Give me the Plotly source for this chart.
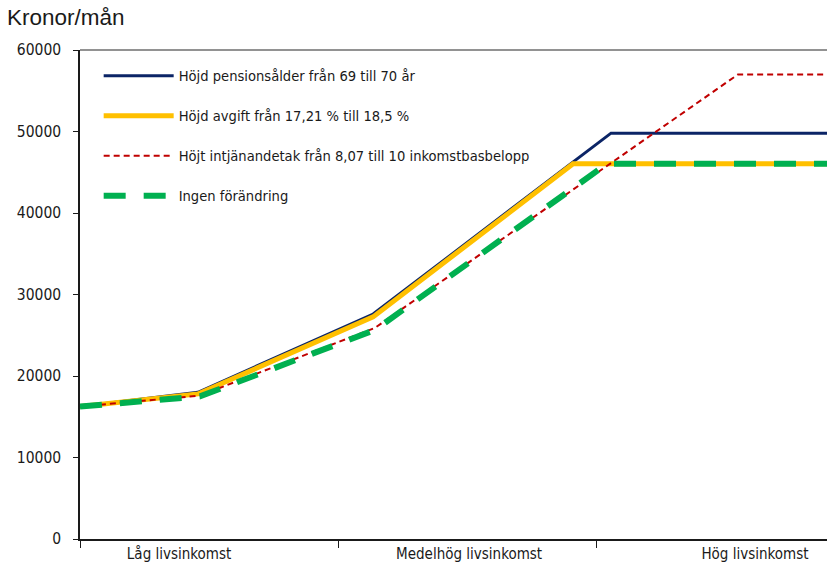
import plotly.graph_objects as go

# Position along the income axis (0-1: låg, 1-2: medelhög, 2-3: hög)
navy_x = [0, 0.457, 1.136, 2.058, 3.0]
navy_y = [16250, 18000, 27600, 49800, 49800]

yellow_x = [0, 0.457, 1.136, 1.911, 3.0]
yellow_y = [16250, 17800, 27250, 46050, 46050]

red_x = [0, 0.465, 1.143, 2.550, 3.0]
red_y = [16250, 17600, 25900, 57000, 57000]

green_x = [0, 0.465, 1.143, 2.043, 3.0]
green_y = [16250, 17500, 25650, 46050, 46050]

cat_pos = [0.384, 1.508, 2.616]
cat_labels = ["Låg livsinkomst", "Medelhög livsinkomst", "Hög livsinkomst"]
cat_bounds = [0, 1, 2]

y_ticks = [0, 10000, 20000, 30000, 40000, 50000, 60000]
y_labels = ["0", "10000", "20000", "30000", "40000", "50000", "60000"]

names = [
    "Höjd pensionsålder från 69 till 70 år",
    "Höjd avgift från 17,21 % till 18,5 %",
    "Höjt intjänandetak från 8,07 till 10 inkomstbasbelopp",
    "Ingen förändring",
]

NARROW = "Liberation Sans Narrow, Arial Narrow, DejaVu Sans Condensed, sans-serif"

fig = go.Figure()
fig.add_trace(go.Scatter(x=navy_x, y=navy_y, mode="lines", name=names[0],
                         line=dict(color="#0b2466", width=3), legendgroup="a"))
fig.add_trace(go.Scatter(x=yellow_x, y=yellow_y, mode="lines", name=names[1],
                         line=dict(color="#ffc000", width=5), legendgroup="b"))
fig.add_trace(go.Scatter(x=red_x, y=red_y, mode="lines", name=names[2],
                         line=dict(color="#c00000", width=2, dash="6px,4px"), legendgroup="c"))
fig.add_trace(go.Scatter(x=green_x, y=green_y, mode="lines", name=names[3],
                         line=dict(color="#00b050", width=6, dash="22px,18px"), legendgroup="d"))

fig.update_layout(
    width=827, height=565,
    margin=dict(l=80, r=0, t=50, b=26),
    plot_bgcolor="white", paper_bgcolor="white",
    font=dict(family=NARROW, size=15, color="#1a1a1a"),
    title=dict(text="Kronor/mån", x=7/827, xref="container", xanchor="left",
               y=1-17/565, yref="container", yanchor="middle", pad=dict(l=0, t=0, b=0, r=0),
               font=dict(family="Liberation Sans, Arial, sans-serif", size=22.5, color="#1a1a1a")),
    showlegend=True,
    legend=dict(x=0.025, y=0.98, xanchor="left", yanchor="top",
                traceorder="grouped", tracegroupgap=18,
                font=dict(family=NARROW, size=14.6, color="#1a1a1a"),
                bgcolor="rgba(0,0,0,0)", itemwidth=70),
    xaxis=dict(range=[0, 2.895], showgrid=False, zeroline=False,
               showline=True, linecolor="#1a1a1a", linewidth=2,
               tickmode="array", tickvals=cat_pos, ticktext=cat_labels,
               ticks="", tickfont=dict(family=NARROW, size=15, color="#1a1a1a"),
               minor=dict(tickmode="array", tickvals=cat_bounds, ticks="outside",
                          ticklen=7, tickcolor="#1a1a1a", tickwidth=1, showgrid=False)),
    yaxis=dict(range=[0, 60000], showgrid=False, zeroline=False,
               showline=True, linecolor="#1a1a1a", linewidth=1.5,
               tickmode="array", tickvals=y_ticks, ticktext=y_labels,
               ticks="outside", ticklen=5, tickcolor="#1a1a1a", ticklabelstandoff=9,
               tickfont=dict(family=NARROW, size=15.5, color="#1a1a1a")),
    shapes=[dict(type="line", xref="paper", yref="paper", x0=0, x1=1, y0=1, y1=1,
                 line=dict(color="#6e6e6e", width=1.5))],
)

fig.write_html("out.html", config={"displayModeBar": False},
               post_script="document.body.style.margin='0';")
